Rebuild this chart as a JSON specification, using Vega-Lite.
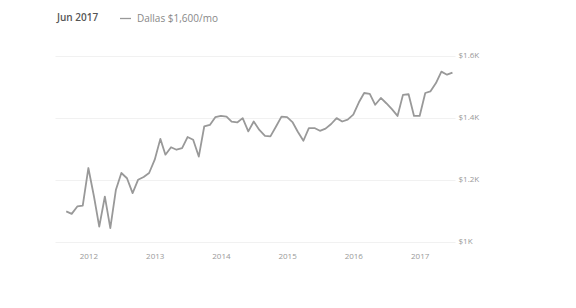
{
  "$schema": "https://vega.github.io/schema/vega-lite/v6.json",
  "width": 400,
  "height": 217,
  "autosize": "none",
  "padding": {"left": 55, "top": 31, "right": 121, "bottom": 60},
  "background": "white",
  "config": {
    "view": {"stroke": null},
    "font": "Open Sans"
  },
  "data": {
    "values": [
      {"date": "2011-09-01", "rent": 1098, "series": "Dallas $1,600/mo"},
      {"date": "2011-10-01", "rent": 1090, "series": "Dallas $1,600/mo"},
      {"date": "2011-11-01", "rent": 1114, "series": "Dallas $1,600/mo"},
      {"date": "2011-12-01", "rent": 1117, "series": "Dallas $1,600/mo"},
      {"date": "2012-01-01", "rent": 1238, "series": "Dallas $1,600/mo"},
      {"date": "2012-02-01", "rent": 1146, "series": "Dallas $1,600/mo"},
      {"date": "2012-03-01", "rent": 1049, "series": "Dallas $1,600/mo"},
      {"date": "2012-04-01", "rent": 1146, "series": "Dallas $1,600/mo"},
      {"date": "2012-05-01", "rent": 1044, "series": "Dallas $1,600/mo"},
      {"date": "2012-06-01", "rent": 1168, "series": "Dallas $1,600/mo"},
      {"date": "2012-07-01", "rent": 1222, "series": "Dallas $1,600/mo"},
      {"date": "2012-08-01", "rent": 1205, "series": "Dallas $1,600/mo"},
      {"date": "2012-09-01", "rent": 1157, "series": "Dallas $1,600/mo"},
      {"date": "2012-10-01", "rent": 1200, "series": "Dallas $1,600/mo"},
      {"date": "2012-11-01", "rent": 1209, "series": "Dallas $1,600/mo"},
      {"date": "2012-12-01", "rent": 1222, "series": "Dallas $1,600/mo"},
      {"date": "2013-01-01", "rent": 1265, "series": "Dallas $1,600/mo"},
      {"date": "2013-02-01", "rent": 1332, "series": "Dallas $1,600/mo"},
      {"date": "2013-03-01", "rent": 1281, "series": "Dallas $1,600/mo"},
      {"date": "2013-04-01", "rent": 1305, "series": "Dallas $1,600/mo"},
      {"date": "2013-05-01", "rent": 1297, "series": "Dallas $1,600/mo"},
      {"date": "2013-06-01", "rent": 1302, "series": "Dallas $1,600/mo"},
      {"date": "2013-07-01", "rent": 1338, "series": "Dallas $1,600/mo"},
      {"date": "2013-08-01", "rent": 1329, "series": "Dallas $1,600/mo"},
      {"date": "2013-09-01", "rent": 1275, "series": "Dallas $1,600/mo"},
      {"date": "2013-10-01", "rent": 1372, "series": "Dallas $1,600/mo"},
      {"date": "2013-11-01", "rent": 1377, "series": "Dallas $1,600/mo"},
      {"date": "2013-12-01", "rent": 1402, "series": "Dallas $1,600/mo"},
      {"date": "2014-01-01", "rent": 1406, "series": "Dallas $1,600/mo"},
      {"date": "2014-02-01", "rent": 1404, "series": "Dallas $1,600/mo"},
      {"date": "2014-03-01", "rent": 1388, "series": "Dallas $1,600/mo"},
      {"date": "2014-04-01", "rent": 1385, "series": "Dallas $1,600/mo"},
      {"date": "2014-05-01", "rent": 1399, "series": "Dallas $1,600/mo"},
      {"date": "2014-06-01", "rent": 1356, "series": "Dallas $1,600/mo"},
      {"date": "2014-07-01", "rent": 1388, "series": "Dallas $1,600/mo"},
      {"date": "2014-08-01", "rent": 1361, "series": "Dallas $1,600/mo"},
      {"date": "2014-09-01", "rent": 1342, "series": "Dallas $1,600/mo"},
      {"date": "2014-10-01", "rent": 1340, "series": "Dallas $1,600/mo"},
      {"date": "2014-11-01", "rent": 1372, "series": "Dallas $1,600/mo"},
      {"date": "2014-12-01", "rent": 1404, "series": "Dallas $1,600/mo"},
      {"date": "2015-01-01", "rent": 1402, "series": "Dallas $1,600/mo"},
      {"date": "2015-02-01", "rent": 1385, "series": "Dallas $1,600/mo"},
      {"date": "2015-03-01", "rent": 1355, "series": "Dallas $1,600/mo"},
      {"date": "2015-04-01", "rent": 1326, "series": "Dallas $1,600/mo"},
      {"date": "2015-05-01", "rent": 1367, "series": "Dallas $1,600/mo"},
      {"date": "2015-06-01", "rent": 1367, "series": "Dallas $1,600/mo"},
      {"date": "2015-07-01", "rent": 1358, "series": "Dallas $1,600/mo"},
      {"date": "2015-08-01", "rent": 1365, "series": "Dallas $1,600/mo"},
      {"date": "2015-09-01", "rent": 1380, "series": "Dallas $1,600/mo"},
      {"date": "2015-10-01", "rent": 1399, "series": "Dallas $1,600/mo"},
      {"date": "2015-11-01", "rent": 1388, "series": "Dallas $1,600/mo"},
      {"date": "2015-12-01", "rent": 1394, "series": "Dallas $1,600/mo"},
      {"date": "2016-01-01", "rent": 1410, "series": "Dallas $1,600/mo"},
      {"date": "2016-02-01", "rent": 1450, "series": "Dallas $1,600/mo"},
      {"date": "2016-03-01", "rent": 1480, "series": "Dallas $1,600/mo"},
      {"date": "2016-04-01", "rent": 1477, "series": "Dallas $1,600/mo"},
      {"date": "2016-05-01", "rent": 1442, "series": "Dallas $1,600/mo"},
      {"date": "2016-06-01", "rent": 1464, "series": "Dallas $1,600/mo"},
      {"date": "2016-07-01", "rent": 1447, "series": "Dallas $1,600/mo"},
      {"date": "2016-08-01", "rent": 1428, "series": "Dallas $1,600/mo"},
      {"date": "2016-09-01", "rent": 1406, "series": "Dallas $1,600/mo"},
      {"date": "2016-10-01", "rent": 1474, "series": "Dallas $1,600/mo"},
      {"date": "2016-11-01", "rent": 1476, "series": "Dallas $1,600/mo"},
      {"date": "2016-12-01", "rent": 1406, "series": "Dallas $1,600/mo"},
      {"date": "2017-01-01", "rent": 1406, "series": "Dallas $1,600/mo"},
      {"date": "2017-02-01", "rent": 1480, "series": "Dallas $1,600/mo"},
      {"date": "2017-03-01", "rent": 1485, "series": "Dallas $1,600/mo"},
      {"date": "2017-04-01", "rent": 1512, "series": "Dallas $1,600/mo"},
      {"date": "2017-05-01", "rent": 1549, "series": "Dallas $1,600/mo"},
      {"date": "2017-06-01", "rent": 1539, "series": "Dallas $1,600/mo"},
      {"date": "2017-07-01", "rent": 1546, "series": "Dallas $1,600/mo"}
    ]
  },
  "mark": {"type": "line", "strokeWidth": 1.8, "strokeJoin": "round", "clip": false},
  "encoding": {
    "x": {
      "field": "date",
      "type": "temporal",
      "scale": {"domain": [{"year": 2011, "month": 7, "date": 1}, {"year": 2017, "month": 7, "date": 15}]},
      "axis": {
        "title": null,
        "format": "%Y",
        "values": [
          {"year": 2012, "month": 1, "date": 1},
          {"year": 2013, "month": 1, "date": 1},
          {"year": 2014, "month": 1, "date": 1},
          {"year": 2015, "month": 1, "date": 1},
          {"year": 2016, "month": 1, "date": 1},
          {"year": 2017, "month": 1, "date": 1}
        ],
        "grid": false,
        "domain": false,
        "ticks": false,
        "labelPadding": 4,
        "labelFontSize": 8,
        "labelColor": "#999999",
        "labelFont": "Open Sans"
      }
    },
    "y": {
      "field": "rent",
      "type": "quantitative",
      "scale": {"domain": [980, 1680], "zero": false, "nice": false},
      "axis": {
        "title": null,
        "orient": "right",
        "values": [1000, 1200, 1400, 1600],
        "labelExpr": "'$' + format(datum.value / 1000, '.1~f') + 'K'",
        "grid": true,
        "gridColor": "#f1f1f1",
        "gridWidth": 1,
        "domain": false,
        "ticks": false,
        "labelPadding": 3,
        "labelFontSize": 8,
        "labelColor": "#999999",
        "labelFont": "Open Sans"
      }
    },
    "color": {
      "field": "series",
      "type": "nominal",
      "scale": {"range": ["#999999"]},
      "legend": {
        "orient": "none",
        "legendX": 2,
        "legendY": -19,
        "direction": "horizontal",
        "title": "Jun 2017",
        "titleOrient": "left",
        "titleFontSize": 10,
        "titleFontWeight": 600,
        "titleColor": "#555555",
        "titleFont": "Open Sans",
        "titlePadding": 20,
        "symbolType": "stroke",
        "symbolSize": 121,
        "symbolStrokeWidth": 1.3,
        "labelFontSize": 10,
        "labelColor": "#888888",
        "labelFont": "Open Sans",
        "labelOffset": 5
      }
    }
  }
}
